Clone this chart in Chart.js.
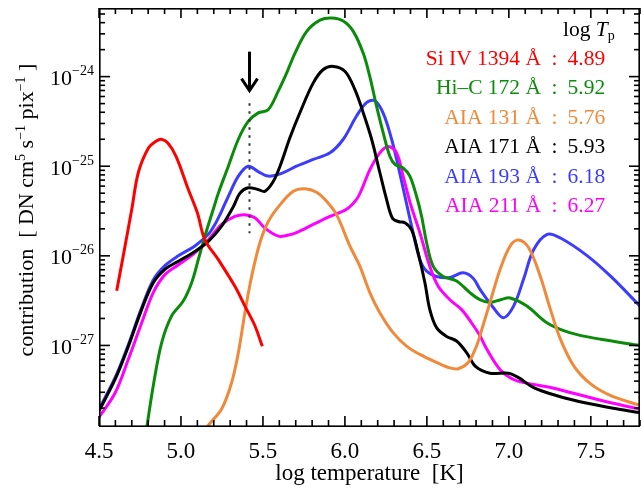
<!DOCTYPE html>
<html><head><meta charset="utf-8">
<script src="https://cdn.jsdelivr.net/npm/chart.js@4"></script>
<style>html,body{margin:0;padding:0;background:#fff;} #wrap{width:641px;height:491px;}</style>
</head><body><div id="wrap"><canvas id="c" width="641" height="491"></canvas></div>
<script>
// ---- data (log T in K, contribution in DN cm^5 s^-1 pix^-1) ----
const siX = [4.608,4.65,4.70,4.74,4.80,4.85,4.88,4.92,4.97,5.045,5.10,5.146,5.227,5.329,5.39,5.451,5.496];
const siY = [4.07e-27,1.05e-26,3.31e-26,8.51e-26,1.58e-25,1.91e-25,2.00e-25,1.82e-25,1.29e-25,5.50e-26,3.02e-26,1.51e-26,9.12e-27,4.57e-27,2.75e-27,1.66e-27,9.77e-28];

const hicX = [4.78,4.791,4.831,4.882,4.943,5.014,5.065,5.106,5.146,5.197,5.228,5.289,5.35,5.41,5.471,5.532,5.594,5.645,5.695,5.767,5.848,5.919,5.99,6.051,6.112,6.152,6.193,6.234,6.274,6.305,6.355,6.396,6.437,6.468,6.498,6.538,6.599,6.681,6.762,6.823,6.885,6.95,7.008,7.11,7.234,7.376,7.561,7.8];
const hicY = [8.91e-29,1.20e-28,3.55e-28,1.07e-27,2.14e-27,3.13e-27,5.01e-27,9.12e-27,1.66e-26,3.31e-26,5.01e-26,1.00e-25,2.00e-25,3.16e-25,3.94e-25,4.27e-25,6.92e-25,1.10e-24,1.82e-24,3.20e-24,4.27e-24,4.51e-24,4.17e-24,3.20e-24,1.82e-24,1.00e-24,4.68e-25,2.34e-25,1.29e-25,1.05e-25,9.55e-26,7.76e-26,4.62e-26,2.75e-26,1.41e-26,7.67e-27,5.89e-27,5.25e-27,3.89e-27,3.24e-27,3.02e-27,3.24e-27,3.39e-27,2.75e-27,1.78e-27,1.38e-27,1.17e-27,1.00e-27];

const a131X = [5.145,5.157,5.248,5.309,5.35,5.39,5.431,5.482,5.532,5.60,5.685,5.756,5.827,5.888,5.949,6.03,6.091,6.152,6.213,6.295,6.376,6.457,6.559,6.64,6.691,6.752,6.80,6.824,6.885,6.947,7.008,7.059,7.121,7.192,7.254,7.315,7.397,7.499,7.622,7.8];
const a131Y = [8.91e-29,1.20e-28,1.95e-28,3.85e-28,8.32e-28,2.32e-27,5.89e-27,1.41e-26,2.40e-26,3.63e-26,5.25e-26,5.62e-26,5.13e-26,4.07e-26,2.88e-26,1.29e-26,7.67e-27,3.89e-27,2.32e-27,1.38e-27,9.84e-28,7.94e-28,6.46e-28,5.62e-28,5.50e-28,6.46e-28,9.55e-28,1.29e-27,3.02e-27,7.08e-27,1.29e-26,1.50e-26,1.23e-26,5.89e-27,2.51e-27,1.17e-27,5.89e-28,3.72e-28,2.75e-28,2.14e-28];

const a171X = [4.5,4.598,4.679,4.76,4.831,4.902,4.984,5.085,5.167,5.248,5.32,5.36,5.41,5.47,5.512,5.56,5.604,5.665,5.726,5.807,5.868,5.929,6.0,6.061,6.112,6.163,6.213,6.254,6.29,6.33,6.366,6.407,6.447,6.488,6.518,6.559,6.62,6.681,6.742,6.80,6.885,6.998,7.059,7.151,7.294,7.479,7.663,7.8];
const a171Y = [1.86e-28,4.17e-28,9.77e-28,2.51e-27,5.01e-27,7.08e-27,8.71e-27,1.12e-26,1.45e-26,2.14e-26,3.55e-26,5.01e-26,5.75e-26,5.50e-26,5.25e-26,6.61e-26,1.00e-25,2.09e-25,3.98e-25,8.51e-25,1.20e-24,1.30e-24,1.15e-24,7.16e-25,3.94e-25,2.00e-25,8.51e-26,4.27e-26,2.63e-26,2.40e-26,2.34e-26,1.95e-26,1.07e-26,5.01e-27,2.51e-27,1.58e-27,1.26e-27,1.12e-27,8.32e-28,5.75e-28,4.90e-28,4.90e-28,4.37e-28,3.39e-28,2.75e-28,2.26e-28,1.95e-28,1.78e-28];

const a193X = [4.5,4.598,4.679,4.76,4.831,4.902,4.984,5.085,5.167,5.207,5.248,5.289,5.35,5.41,5.471,5.532,5.614,5.705,5.807,5.909,5.99,6.071,6.132,6.183,6.234,6.285,6.325,6.366,6.416,6.457,6.498,6.559,6.64,6.721,6.782,6.824,6.906,6.967,7.029,7.09,7.151,7.234,7.315,7.479,7.622,7.8];
const a193Y = [1.95e-28,4.37e-28,1.02e-27,2.63e-27,5.37e-27,7.76e-27,1.00e-26,1.29e-26,1.74e-26,2.24e-26,3.16e-26,4.62e-26,7.76e-26,1.00e-25,8.71e-26,7.76e-26,8.32e-26,1.00e-25,1.19e-25,1.41e-25,2.00e-25,3.63e-25,5.13e-25,5.37e-25,3.89e-25,2.00e-25,1.00e-25,4.62e-26,1.82e-26,9.12e-27,6.76e-27,5.89e-27,5.75e-27,6.46e-27,5.62e-27,4.22e-27,2.63e-27,2.04e-27,2.75e-27,5.50e-27,1.17e-26,1.74e-26,1.58e-26,1.00e-26,5.89e-27,2.75e-27];

const a211X = [4.5,4.598,4.679,4.76,4.831,4.902,4.984,5.085,5.167,5.248,5.329,5.39,5.451,5.512,5.594,5.65,5.705,5.807,5.909,6.01,6.071,6.10,6.152,6.213,6.264,6.315,6.355,6.40,6.457,6.518,6.569,6.64,6.712,6.773,6.823,6.865,6.947,7.029,7.11,7.254,7.417,7.622,7.8];
const a211Y = [1.58e-28,2.95e-28,7.00e-28,1.78e-27,3.89e-27,6.17e-27,7.94e-27,1.08e-26,1.51e-26,2.24e-26,2.75e-26,2.88e-26,2.66e-26,2.04e-26,1.66e-26,1.70e-26,1.82e-26,2.24e-26,2.75e-26,3.31e-26,4.27e-26,5.37e-26,9.12e-26,1.41e-25,1.66e-25,1.41e-25,7.76e-26,3.80e-26,1.82e-26,7.59e-27,4.57e-27,3.24e-27,2.51e-27,1.78e-27,1.29e-27,9.12e-28,5.37e-28,4.17e-28,3.80e-28,3.39e-28,2.85e-28,2.29e-28,1.95e-28];

const legendLabels = ['Si IV 1394 Å','Hi–C 172 Å','AIA 131 Å','AIA 171 Å','AIA 193 Å','AIA 211 Å'];
const legendPeaks = ['4.89','5.92','5.76','5.93','6.18','6.27'];
const xTickLabels = ['4.5','5.0','5.5','6.0','6.5','7.0','7.5'];
const xTickValues = [4.5,5.0,5.5,6.0,6.5,7.0,7.5];
const xMinorStep = 0.1;
const yTickValues = [1e-24,1e-25,1e-26,1e-27];
const yTickExps = ['−24','−25','−26','−27'];
const markerX = 5.415;              // arrow / dotted marker position
const markerArrow = [1.90e-24, 6.8e-25];
const markerDots = [5.05e-25, 1.79e-26];

const colors = ['#ff0000','#0a8c0a','#f08a3a','#000000','#3c3cff','#ff00ff'];
const orders = [0,3,1,2,5,4];
const xs = [siX,hicX,a131X,a171X,a193X,a211X];
const ys = [siY,hicY,a131Y,a171Y,a193Y,a211Y];

const datasets = xs.map((xa,k)=>({
  label: legendLabels[k],
  data: xa.map((x,i)=>({x:x,y:ys[k][i]})),
  borderColor: colors[k],
  borderWidth: 3,
  pointRadius: 0,
  fill: false,
  tension: 0.35,
  clip: 0,
  order: orders[k]
}));

const SERIF = '"Liberation Serif","Times New Roman",serif';

function drawRich(ctx, parts, x, y, align){
  let total = 0;
  parts.forEach(p=>{ ctx.font = (p.italic?'italic ':'')+p.size+'px '+SERIF; p.w = ctx.measureText(p.t).width; total += p.w; });
  let cx = align==='center' ? x-total/2 : (align==='right' ? x-total : x);
  ctx.textAlign = 'left';
  parts.forEach(p=>{ ctx.font = (p.italic?'italic ':'')+p.size+'px '+SERIF; ctx.fillText(p.t, cx, y+(p.dy||0)); cx += p.w; });
}

const deco = {
  id:'deco',
  afterDraw(chart){
    const ctx = chart.ctx, a = chart.chartArea;
    const xS = chart.scales.x, yS = chart.scales.y;
    ctx.save();
    ctx.setLineDash([]);
    ctx.fillStyle = '#000000';
    const L = Math.round(a.left), R = Math.round(a.right)-1;
    const T = Math.round(a.top), B = Math.round(a.bottom)-1;
    const W = 1.6;
    // frame
    ctx.fillRect(L, T, R-L+1, W);
    ctx.fillRect(L, B-W+1, R-L+1, W);
    ctx.fillRect(L, T, W, B-T+1);
    ctx.fillRect(R-W+1, T, W, B-T+1);
    // x ticks (bottom and top, inward)
    const nX = Math.round((xS.max - xS.min)/xMinorStep);
    for (let i=0;i<=nX;i++){
      const v = xS.min + i*xMinorStep;
      const px = xS.getPixelForValue(v);
      const len = (i%5===0) ? 10 : 6;
      ctx.fillRect(px-W/2, B-len, W, len);
      ctx.fillRect(px-W/2, T, W, len);
    }
    // y ticks (left and right, inward)
    for (let e=-29;e<=-24;e++){
      for (let m=1;m<=9;m++){
        const v = m*Math.pow(10,e);
        if (v < yS.min || v > yS.max) continue;
        const py = yS.getPixelForValue(v);
        const len = (m===1) ? 11 : 6;
        ctx.fillRect(L, py-W/2, len, W);
        ctx.fillRect(R-len+1, py-W/2, len, W);
      }
    }
    // y tick labels
    ctx.textBaseline = 'alphabetic';
    yTickValues.forEach((v,i)=>{
      const py = yS.getPixelForValue(v);
      ctx.font = '14px '+SERIF; const we = ctx.measureText(yTickExps[i]).width;
      ctx.font = '22px '+SERIF; const wb = ctx.measureText('10').width;
      const right = a.left - 5;
      ctx.textAlign='left';
      ctx.fillText('10', right-we-wb, py+8.5);
      ctx.font = '14px '+SERIF;
      ctx.fillText(yTickExps[i], right-we, py-1.5);
    });
    // x tick labels
    ctx.font = '23px '+SERIF; ctx.textAlign='center';
    xTickValues.forEach((v,i)=>{ ctx.fillText(xTickLabels[i], xS.getPixelForValue(v), 458); });
    // x title
    ctx.fillText('log temperature  [K]', (a.left+a.right)/2, 480);
    // y title
    ctx.save();
    ctx.translate(33, 210); ctx.rotate(-Math.PI/2);
    drawRich(ctx, [
      {t:'contribution  [ DN cm', size:22},
      {t:'5', size:14, dy:-8},
      {t:' s', size:22},
      {t:'−1', size:14, dy:-8},
      {t:' pix', size:22},
      {t:'−1', size:14, dy:-8},
      {t:' ]', size:22}
    ], 0, 0, 'center');
    ctx.restore();
    // legend
    ctx.fillStyle = '#000';
    drawRich(ctx, [{t:'log ', size:21.5},{t:'T', size:21.5, italic:true},{t:'p', size:14, dy:4}], 563, 36, 'left');
    legendLabels.forEach((lab,i)=>{
      const y = 65 + i*29.4;
      ctx.fillStyle = colors[i];
      ctx.font = '21.5px '+SERIF;
      ctx.textAlign='right'; ctx.fillText(lab, 541, y);
      ctx.textAlign='center'; ctx.fillText(':', 554.5, y);
      ctx.textAlign='left'; ctx.fillText(legendPeaks[i], 567.5, y);
    });
    // marker arrow + dotted line
    const mx = Math.round(xS.getPixelForValue(markerX))+0.5;
    const yTop = yS.getPixelForValue(markerArrow[0]);
    const yTip = yS.getPixelForValue(markerArrow[1]);
    ctx.strokeStyle = '#000'; ctx.lineWidth = 3; ctx.lineCap='butt';
    ctx.beginPath(); ctx.moveTo(mx, yTop); ctx.lineTo(mx, yTip-1); ctx.stroke();
    ctx.beginPath(); ctx.moveTo(mx-8, yTip-13); ctx.lineTo(mx, yTip-1); ctx.lineTo(mx+8, yTip-13); ctx.stroke();
    ctx.strokeStyle = '#333'; ctx.lineWidth = 2; ctx.setLineDash([2.5,5.5]);
    ctx.beginPath(); ctx.moveTo(mx, yS.getPixelForValue(markerDots[0])); ctx.lineTo(mx, yS.getPixelForValue(markerDots[1])); ctx.stroke();
    ctx.restore();
  }
};

new Chart(document.getElementById('c'), {
  type:'line',
  data:{ datasets: datasets },
  options:{
    responsive:false, animation:false, devicePixelRatio:1,
    layout:{ padding:{ left:99, right:1, top:8, bottom:64 } },
    plugins:{ legend:{display:false}, tooltip:{enabled:false} },
    scales:{
      x:{ type:'linear', min:4.5, max:7.8, display:false },
      y:{ type:'logarithmic', min:1.23e-28, max:5.83e-24, display:false }
    }
  },
  plugins:[deco]
});
</script></body></html>
